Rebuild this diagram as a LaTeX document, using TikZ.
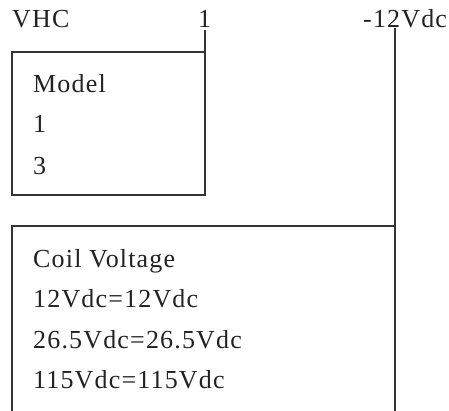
\documentclass[tikz,border=0pt]{standalone}
\usepackage{fontspec}
\setmainfont[LetterSpace=4.5]{Liberation Serif}
\definecolor{ink}{HTML}{222222}
\definecolor{wire}{HTML}{333333}
\begin{document}
\begin{tikzpicture}[x=1pt,y=-1pt,
  lbl/.style={anchor=base west, inner sep=0pt, font=\fontsize{26}{30}\selectfont, text=ink},
  wireline/.style={draw=wire, line width=2pt}]
\useasboundingbox (0,0) rectangle (449,411);
% top labels
\node[lbl] (vhc) at (12,28) {VHC};
\node[lbl] (one) at (198,28) {1};
\node[lbl] (vdc) at (363,28) {-12Vdc};
% box 1 corners
\coordinate (b1tl) at (12,52);
\coordinate (b1tr) at (205,52);
\coordinate (b1br) at (205,195);
\coordinate (b1bl) at (12,195);
\coordinate (onefoot) at (205,30);
% box 2 and right line
\coordinate (rtop) at (395,28);
\coordinate (rbot) at (395,411);
\coordinate (b2tl) at (12,226);
\coordinate (b2tr) at (395,226);
\coordinate (b2bl) at (12,411);
\draw[wireline] (b1tl) -- (b1tr) -- (b1br) -- (b1bl) -- cycle;
\draw[wireline] (onefoot) -- (b1tr);
\draw[wireline] (rtop) -- (rbot);
\draw[wireline] (b2bl) -- (b2tl) -- (b2tr);
% box 1 text
\node[lbl] (model) at (33,93) {Model};
\node[lbl] (m1) at (33,133) {1};
\node[lbl] (m3) at (33,175) {3};
% box 2 text
\node[lbl] (coil) at (33,268) {Coil Voltage};
\node[lbl] (c12) at (33,307) {12Vdc=12Vdc};
\node[lbl] (c26) at (33,348) {26.5Vdc=26.5Vdc};
\node[lbl] (c115) at (33,388) {115Vdc=115Vdc};
\end{tikzpicture}
\end{document}
